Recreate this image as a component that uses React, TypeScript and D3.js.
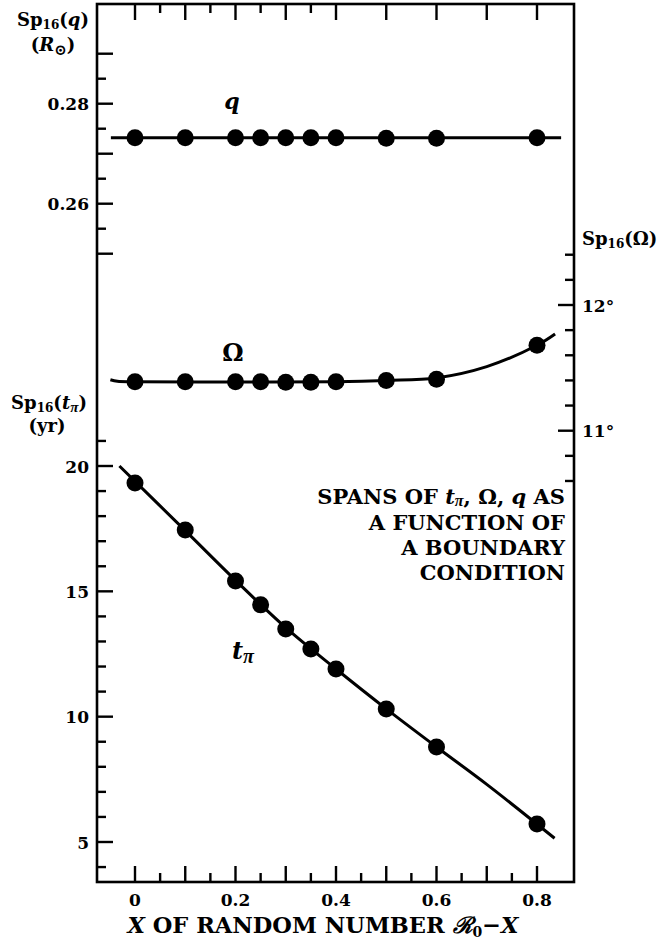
import React from 'react';
import * as d3 from 'd3';

// values
const xValues = [0, 0.1, 0.2, 0.25, 0.3, 0.35, 0.4, 0.5, 0.6, 0.8];
const qSpans = [0.2732, 0.2732, 0.2732, 0.2732, 0.2732, 0.2732, 0.2732, 0.2731, 0.2731, 0.2732];
const omegaSpans = [11.39, 11.39, 11.39, 11.39, 11.385, 11.385, 11.39, 11.4, 11.41, 11.68];
const tSpans = [19.32, 17.45, 15.41, 14.46, 13.5, 12.7, 11.9, 10.31, 8.79, 5.72];

// fitted curves (knots)
const qFit: [number, number][] = [[-0.048, 0.2732], [0.848, 0.2732]];
const omegaFit: [number, number][] = [
  [-0.049, 11.405], [-0.035, 11.393], [0, 11.39], [0.2, 11.388], [0.4, 11.39],
  [0.5, 11.4], [0.6, 11.42], [0.7, 11.51], [0.8, 11.68], [0.836, 11.77]
];
const tFit: [number, number][] = [
  [-0.031, 20.0], [0.1, 17.42], [0.2, 15.44], [0.3, 13.55], [0.4, 11.9],
  [0.5, 10.31], [0.6, 8.79], [0.7, 7.3], [0.835, 5.15]
];

const xTickLabels = [0, 0.2, 0.4, 0.6, 0.8];
const qTickLabels = [0.26, 0.28];
const tTickLabels = [5, 10, 15, 20];
const omegaTickLabels = [11, 12];
const noteLines = ['A FUNCTION OF', 'A BOUNDARY', 'CONDITION'];

const FONT = "'DejaVu Serif', serif";
const PI_FONT = "'Liberation Serif', serif";

export default function App() {
  const width = 660;
  const height = 947;
  const frame = { left: 97, right: 574, top: 4, bottom: 882 };

  const x = d3.scaleLinear().domain([0, 0.8]).range([135, 537]);
  const yQ = d3.scaleLinear().domain([0.26, 0.28]).range([203.7, 103.7]);
  const yO = d3.scaleLinear().domain([11, 12]).range([430.7, 305]);
  const yT = d3.scaleLinear().domain([5, 20]).range([842, 466]);

  const longTick = 16;
  const shortTick = 9;
  const near = (a: number, b: number) => Math.abs(a - b) < 1e-6;

  const qTicks = d3.range(0, 9).map(i => 0.25 + i * 0.005);
  const tTicks = d3.range(4, 22);
  const oTicks = d3.range(0, 10).map(i => 10.6 + i * 0.2);
  const bottomTicks = d3.range(0, 17).map(i => i * 0.05);
  const topTicks = d3.range(0, 9).map(i => i * 0.1).concat([0.05, 0.15, 0.25, 0.35]);

  const fitLine = (ys: d3.ScaleLinear<number, number>) =>
    d3.line<[number, number]>()
      .x(d => x(d[0]))
      .y(d => ys(d[1]))
      .curve(d3.curveCatmullRom);

  const isLongQ = (v: number) => near(Math.round(v * 100) / 100, v);
  const isLongX = (v: number) => near(Math.round(v * 10) / 10, v);

  return (
    <svg width={width} height={height} style={{ position: 'absolute', left: 0, top: 0 }}
      fontFamily={FONT} fontWeight="bold">
      <rect x={frame.left} y={frame.top} width={frame.right - frame.left}
        height={frame.bottom - frame.top} fill="none" stroke="#000" strokeWidth={2.6} />

      {/* left axis: q */}
      {qTicks.map((v, i) => (
        <line key={'q' + i} x1={frame.left} x2={frame.left + (isLongQ(v) ? longTick : shortTick)}
          y1={yQ(v)} y2={yQ(v)} stroke="#000" strokeWidth={2.4} />
      ))}
      {qTickLabels.map(v => (
        <text key={'ql' + v} x={89} y={yQ(v) + 6.5} textAnchor="end" fontSize={17}>{v.toFixed(2)}</text>
      ))}

      {/* left axis: t_pi */}
      {tTicks.map(v => (
        <line key={'t' + v} x1={frame.left} x2={frame.left + (v % 5 === 0 ? longTick : shortTick)}
          y1={yT(v)} y2={yT(v)} stroke="#000" strokeWidth={2.4} />
      ))}
      {tTickLabels.map(v => (
        <text key={'tl' + v} x={89} y={yT(v) + 6.5} textAnchor="end" fontSize={17}>{v}</text>
      ))}

      {/* right axis: Omega */}
      {oTicks.map((v, i) => (
        <line key={'o' + i} x1={frame.right} x2={frame.right - (near(Math.round(v), v) ? longTick : shortTick)}
          y1={yO(v)} y2={yO(v)} stroke="#000" strokeWidth={2.4} />
      ))}
      {omegaTickLabels.map(v => (
        <text key={'ol' + v} x={582} y={yO(v) + 6.5} fontSize={17}>{v}°</text>
      ))}

      {/* bottom / top axis */}
      {bottomTicks.map((v, i) => (
        <line key={'b' + i} x1={x(v)} x2={x(v)} y1={frame.bottom}
          y2={frame.bottom - (isLongX(v) ? longTick : shortTick)} stroke="#000" strokeWidth={2.4} />
      ))}
      {topTicks.map((v, i) => (
        <line key={'tp' + i} x1={x(v)} x2={x(v)} y1={frame.top}
          y2={frame.top + (isLongX(v) ? longTick : shortTick)} stroke="#000" strokeWidth={2.4} />
      ))}
      {xTickLabels.map(v => (
        <text key={'xl' + v} x={x(v)} y={906} textAnchor="middle" fontSize={17}>{v === 0 ? '0' : v.toFixed(1)}</text>
      ))}
      <text x={323} y={933} textAnchor="middle" fontSize={22.5}>
        <tspan fontStyle="italic">X</tspan> OF RANDOM NUMBER <tspan fontStyle="italic">ℛ</tspan>
        <tspan fontSize={14} dy={4}>0</tspan><tspan dy={-4}>−</tspan><tspan fontStyle="italic">X</tspan>
      </text>

      {/* axis titles */}
      <text x={53} y={26} textAnchor="middle" fontSize={18}>
        Sp<tspan fontSize={12} dy={3}>16</tspan><tspan dy={-3}>(</tspan><tspan fontStyle="italic">q</tspan>)
      </text>
      <text x={53} y={51} textAnchor="middle" fontSize={18}>
        (<tspan fontStyle="italic">R</tspan><tspan fontSize={15} dy={4}>⊙</tspan><tspan dy={-4}>)</tspan>
      </text>
      <text x={49} y={409} textAnchor="middle" fontSize={18}>
        Sp<tspan fontSize={12} dy={3}>16</tspan><tspan dy={-3}>(</tspan><tspan fontStyle="italic">t</tspan>
        <tspan fontSize={15} fontFamily={PI_FONT} fontStyle="italic" dy={3}>π</tspan><tspan dy={-3}>)</tspan>
      </text>
      <text x={47} y={432} textAnchor="middle" fontSize={18}>(yr)</text>
      <text x={582} y={245} fontSize={18}>
        Sp<tspan fontSize={12} dy={3}>16</tspan><tspan dy={-3}>(Ω)</tspan>
      </text>

      {/* fitted curves */}
      <path d={fitLine(yQ)(qFit) || ''} fill="none" stroke="#000" strokeWidth={3} />
      <path d={fitLine(yO)(omegaFit) || ''} fill="none" stroke="#000" strokeWidth={3} />
      <path d={fitLine(yT)(tFit) || ''} fill="none" stroke="#000" strokeWidth={3} />

      {/* points */}
      {xValues.map((v, i) => (
        <g key={'p' + i}>
          <circle cx={x(v)} cy={yQ(qSpans[i])} r={8.5} fill="#000" />
          <circle cx={x(v)} cy={yO(omegaSpans[i])} r={8.5} fill="#000" />
          <circle cx={x(v)} cy={yT(tSpans[i])} r={8.5} fill="#000" />
        </g>
      ))}

      {/* curve labels */}
      <text x={232} y={109} textAnchor="middle" fontSize={22} fontStyle="italic">q</text>
      <text x={233} y={361} textAnchor="middle" fontSize={24}>Ω</text>
      <text x={232} y={659} fontSize={24} fontStyle="italic">
        t<tspan fontSize={20} fontFamily={PI_FONT} dy={4}>π</tspan>
      </text>

      {/* note */}
      <text x={565} y={504} textAnchor="end" fontSize={21}>
        SPANS OF <tspan fontStyle="italic">t</tspan><tspan fontSize={16} fontFamily={PI_FONT} fontStyle="italic" dy={2}>π</tspan>
        <tspan dy={-2}>, Ω, </tspan><tspan fontStyle="italic">q</tspan> AS
      </text>
      {noteLines.map((s, i) => (
        <text key={'n' + i} x={565} y={529.5 + i * 25.3} textAnchor="end" fontSize={21}>{s}</text>
      ))}
    </svg>
  );
}
